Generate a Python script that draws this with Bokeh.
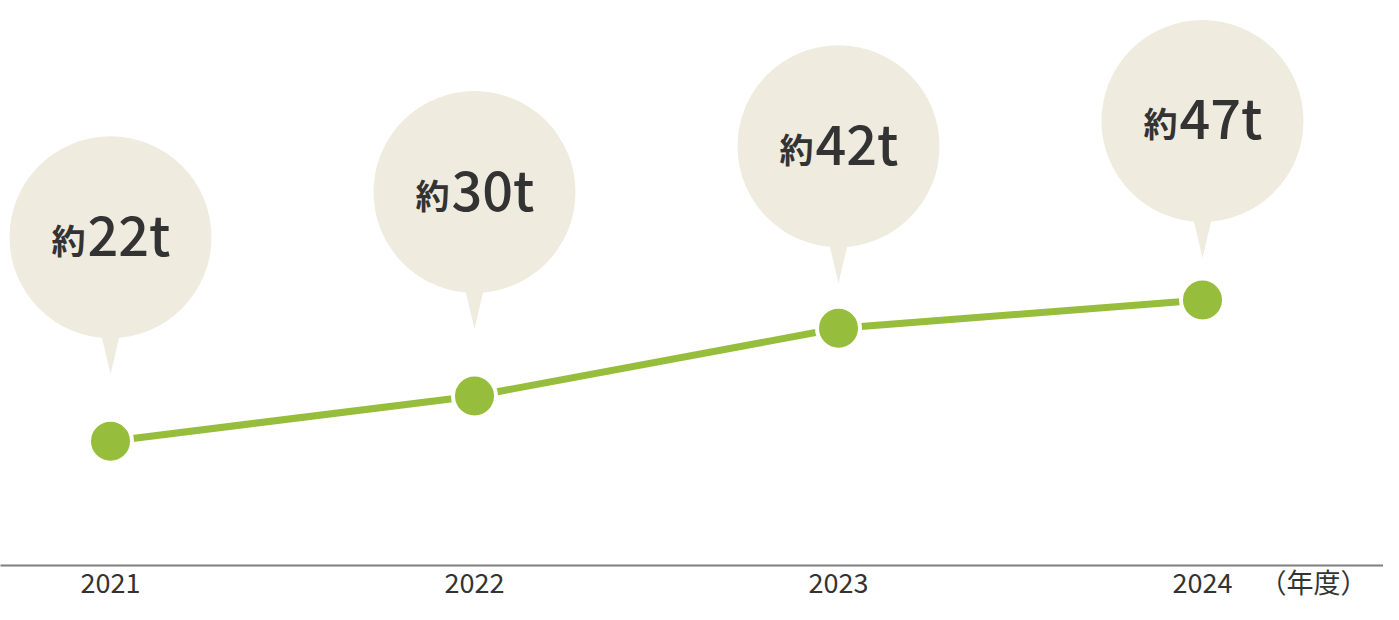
from bokeh.plotting import figure
from bokeh.models import Range1d, FixedTicker
from bokeh.core.properties import value
from bokeh.embed import file_html
from bokeh.resources import INLINE

# ---- data ----
years = [2021, 2022, 2023, 2024]
values = [22, 30, 42, 47]
prefix_labels = ["約", "約", "約", "約"]
value_labels = ["22t", "30t", "42t", "47t"]
tick_labels = ["2021", "2022", "2023", "2024"]
unit_label = "（年度）"

# ---- layout / style ----
FRAME_W, FRAME_H = 1383, 565
X0, X1 = 2021 - 110 / 364.0, 2021 + 1273 / 364.0
Y0, Y1 = 0, 100.0
SX = FRAME_W / (X1 - X0)   # px per year
SY = FRAME_H / (Y1 - Y0)   # px per unit
bubble_offsets_px = [204, 204, 182, 179]
BUBBLE_D = 202
GREEN = "#97BD3C"
BEIGE = "#EFEBDF"
TEXT = "#333333"
FONT = value("Noto Sans CJK JP")
FONT_MED = value("Noto Sans CJK JP Medium, Noto Sans CJK JP")
unit_tick = 2021 + (1313 - 110) / 364.0

p = figure(frame_width=FRAME_W, frame_height=FRAME_H,
           x_range=Range1d(X0, X1), y_range=Range1d(Y0, Y1),
           output_backend="svg", toolbar_location=None,
           y_axis_location=None, min_border=0)
p.grid.visible = False
p.outline_line_color = None
p.background_fill_color = "white"
p.border_fill_color = "white"

# bubbles
bubble_y = [v + o / SY for v, o in zip(values, bubble_offsets_px)]
tail_xs = [[yr - 11 / SX, yr + 11 / SX, yr] for yr in years]
tail_ys = [[by - 90 / SY, by - 90 / SY, by - 137 / SY] for by in bubble_y]
p.patches(tail_xs, tail_ys, fill_color=BEIGE, line_color=None)
p.scatter(years, bubble_y, size=BUBBLE_D, marker="circle",
          fill_color=BEIGE, line_color=None)

# line + points
p.line(years, values, line_width=7, line_color=GREEN)
p.scatter(years, values, size=43, marker="circle", fill_color=GREEN,
          line_color="white", line_width=4)

# bubble texts
p.text(x=years, y=bubble_y, text=prefix_labels, x_offset=-25, y_offset=2,
       text_align="right", text_baseline="alphabetic", text_font=FONT,
       text_font_size="34px", text_font_style="bold", text_color=TEXT)
p.text(x=years, y=bubble_y, text=value_labels, x_offset=-23, y_offset=-5,
       text_align="left", text_baseline="alphabetic", text_font=FONT_MED,
       text_font_size="54px", text_color=TEXT)

# axis
ax = p.xaxis[0]
ax.ticker = FixedTicker(ticks=years + [unit_tick])
overrides = {yr: lab for yr, lab in zip(years, tick_labels)}
overrides[unit_tick] = unit_label
ax.major_label_overrides = overrides
ax.axis_line_color = "#7f7f7f"
ax.axis_line_width = 2
ax.major_tick_line_color = None
ax.minor_tick_line_color = None
ax.major_label_standoff = -10
ax.major_label_text_font = "Noto Sans CJK JP"
ax.major_label_text_font_size = "27px"
ax.major_label_text_color = TEXT

open("out.html", "w").write(file_html(p, INLINE))
